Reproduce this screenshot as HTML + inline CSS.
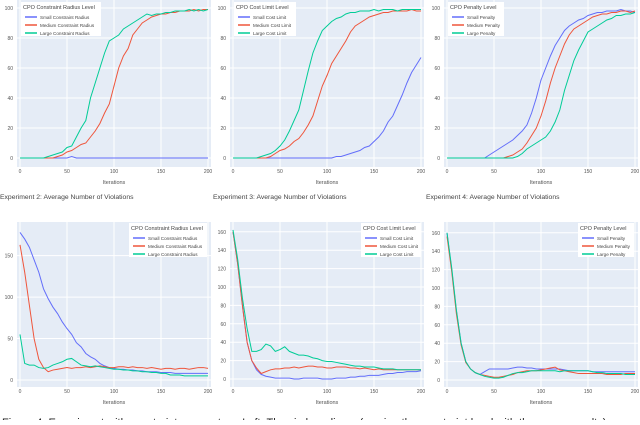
<!DOCTYPE html>
<html><head><meta charset="utf-8"><style>
body{margin:0;background:#fff;width:640px;height:420px;overflow:hidden;font-family:"Liberation Sans",sans-serif}
svg text{font-family:"Liberation Sans",sans-serif}
</style></head><body>
<svg id="c" width="640" height="420" viewBox="0 0 640 420" xmlns="http://www.w3.org/2000/svg">
<text x="2" y="426" font-family="Liberation Serif" font-size="11" fill="#222">Figure 4: Experiment with constraint parameters. Left: The circle radius... (varying the constraint level with the same penalty)</text>
</svg>
<script>
const xs = [0,5,10,15,20,25,30,35,40,45,50,55,60,65,70,75,80,85,90,95,100,105,110,115,120,125,130,135,140,145,150,155,160,165,170,175,180,185,190,195,200];
const t1Small = [0,0,0,0,0,0,0,0,0,0,0,1,0,0,0,0,0,0,0,0,0,0,0,0,0,0,0,0,0,0,0,0,0,0,0,0,0,0,0,0,0];
const t1Med   = [0,0,0,0,0,0,0,0,1,2,4,5,7,9,10,14,18,23,30,36,48,60,68,73,82,86,90,92,94,95,96,96,97,97,98,98,98,99,98,99,99];
const t1Large = [0,0,0,0,0,0,1,2,3,4,7,8,14,20,25,40,50,60,70,78,80,82,86,88,90,92,94,96,95,96,96,97,97,98,98,98,99,98,99,98,99];
const t2Small = [0,0,0,0,0,0,0,0,0,0,0,0,0,0,0,0,0,0,0,0,0,0,1,1,2,3,4,5,7,8,11,14,18,24,28,35,42,50,57,62,67];
const t2Med   = [0,0,0,0,0,0,0,0,1,3,5,6,8,11,13,17,22,28,38,48,55,63,68,73,78,84,88,90,92,94,95,96,97,97,98,98,98,98,99,98,98];
const t2Large = [0,0,0,0,0,0,1,2,3,5,8,12,18,25,32,45,58,70,78,85,88,91,93,94,96,97,97,98,98,98,99,98,99,99,99,98,99,99,99,99,99];
const t3Small = [0,0,0,0,0,0,0,0,0,2,4,6,8,10,12,15,18,22,30,40,52,60,68,75,80,85,88,90,92,93,95,96,97,97,98,98,98,99,98,98,97];
const t3Med   = [0,0,0,0,0,0,0,0,0,0,0,0,0,1,2,4,6,10,15,20,28,38,50,60,68,76,82,86,88,90,92,94,95,96,96,97,97,98,98,97,98];
const t3Large = [0,0,0,0,0,0,0,0,0,0,0,0,0,0,0,1,3,6,8,10,12,14,18,24,32,45,55,65,72,78,84,86,88,90,92,93,95,95,96,96,97];
const b1Small = [178,170,160,145,130,110,98,88,80,70,62,55,45,40,32,28,25,20,17,15,14,13,13,12,12,11,11,10,10,10,9,9,9,8,8,8,8,8,8,8,8];
const b1Med   = [163,130,90,50,25,15,10,12,13,14,15,14,15,15,16,15,16,17,16,15,15,16,16,15,16,15,15,14,15,14,13,14,14,13,14,14,13,14,15,15,14];
const b1Large = [55,20,18,18,15,14,15,18,20,22,25,26,22,18,17,16,17,16,15,14,13,13,12,12,11,11,10,10,9,9,8,8,6,6,6,5,5,5,5,5,5];
const b2Small = [160,125,80,40,20,10,5,3,2,1,1,1,1,0,0,1,1,1,1,0,0,0,1,1,1,2,2,3,3,4,4,4,5,6,6,7,7,8,8,8,9];
const b2Med   = [160,125,80,40,20,12,6,8,10,11,11,12,12,13,12,13,14,14,13,13,12,12,13,13,13,12,12,11,12,11,10,11,10,10,10,10,10,10,10,10,10];
const b2Large = [162,130,88,55,30,30,32,38,36,30,32,35,30,28,26,26,25,23,22,20,19,19,18,17,16,15,14,14,13,13,13,12,11,11,11,10,10,10,10,10,10];
const b3Small = [160,120,75,40,20,12,8,6,9,12,12,12,12,12,13,14,14,13,13,12,12,12,12,12,12,11,10,10,10,10,10,9,9,9,9,9,9,9,9,9,9];
const b3Med   = [156,118,72,38,19,12,8,6,5,4,3,3,4,5,6,8,9,10,10,10,11,12,13,14,11,10,9,8,7,7,7,7,7,7,6,6,6,6,7,7,7];
const b3Large = [160,122,76,40,20,12,8,6,4,3,2,2,3,5,7,8,8,9,10,10,10,10,10,10,9,10,10,10,10,10,10,9,8,8,7,7,7,7,6,6,6];
const yTicksTop = [0,20,40,60,80,100];
const yTicksB1 = [0,50,100,150];
const yTicksB23 = [0,20,40,60,80,100,120,140,160];
const xTicks = [0,50,100,150,200];
const colors = ['#636efa','#ef553b','#00cc96'];
const NS='http://www.w3.org/2000/svg';
const svg=document.getElementById('c');
function mk(tag,attrs,parent){const e=document.createElementNS(NS,tag);for(const k in attrs)e.setAttribute(k,attrs[k]);(parent||svg).appendChild(e);return e;}
function panel(o){
  const g=mk('g',{});
  
  
  const sx=v=>o.x0+v/200*188;
  const sy=v=>o.y0-v*o.k;
  const bg=mk('rect',{x:o.x0-3,y:o.top,width:194,height:o.bot-o.top,fill:'#e5ecf6'},g);
  
  
  for(const t of o.yt){
    const gl=mk('line',{x1:o.x0-3,x2:o.x0+191,y1:sy(t),y2:sy(t),stroke:'#fff','stroke-width':1},g);
    
    
    const tl=mk('text',{x:o.x0-7,y:sy(t)+2,'font-size':5,fill:'#555','text-anchor':'end'},g);
    
    
    tl.textContent=t;
  }
  for(const t of xTicks){
    const gl=mk('line',{x1:sx(t),x2:sx(t),y1:o.top,y2:o.bot,stroke:'#fff','stroke-width':1},g);
    
    
    const tl=mk('text',{x:sx(t),y:o.bot+6,'font-size':5,fill:'#555','text-anchor':'middle'},g);
    
    
    tl.textContent=t;
  }
  const xt=mk('text',{x:o.x0+94,y:o.bot+17,'font-size':5.5,fill:'#555','text-anchor':'middle'},g);
  
  
  xt.textContent='Iterations';
  o.series.forEach((s,i)=>{
    const p=mk('polyline',{points:s.map((v,j)=>sx(xs[j])+','+sy(v)).join(' '),fill:'none',stroke:colors[i],'stroke-width':1},g);
    
    
  });
  const lg=mk('g',{},g);
  
  
  mk('rect',{x:o.lx,y:o.ly,width:o.lw,height:34,fill:'#fff'},lg);
  const lt=mk('text',{x:o.lx+2,y:o.ly+7,'font-size':5.5,fill:'#444'},lg);
  
  
  lt.textContent=o.ltitle;
  o.labels.forEach((l,i)=>{
    const yy=o.ly+15+i*8;
    mk('line',{x1:o.lx+4,x2:o.lx+16,y1:yy,y2:yy,stroke:colors[i],'stroke-width':1.5},lg);
    const et=mk('text',{x:o.lx+19,y:yy+2,'font-size':4.6,fill:'#444'},lg);
    
    
    et.textContent=l;
  });
}
const L1=['Small Constraint Radius','Medium Constraint Radius','Large Constraint Radius'];
const L2=['Small Cost Limit','Medium Cost Limit','Large Cost Limit'];
const L3=['Small Penalty','Medium Penalty','Large Penalty'];
panel({name:'panel-exp1-top',x0:20,top:0,bot:167,y0:158,k:1.5,yt:yTicksTop,series:[t1Small,t1Med,t1Large],labels:L1,ltitle:'CPO Constraint Radius Level',lx:21,ly:2,lw:80});
panel({name:'panel-exp2-top',x0:233,top:0,bot:167,y0:158,k:1.5,yt:yTicksTop,series:[t2Small,t2Med,t2Large],labels:L2,ltitle:'CPO Cost Limit Level',lx:234,ly:2,lw:62});
panel({name:'panel-exp3-top',x0:447,top:0,bot:167,y0:158,k:1.5,yt:yTicksTop,series:[t3Small,t3Med,t3Large],labels:L3,ltitle:'CPO Penalty Level',lx:448,ly:2,lw:56});
panel({name:'panel-exp2-violations',x0:20,top:222,bot:387,y0:380,k:0.829,yt:yTicksB1,series:[b1Small,b1Med,b1Large],labels:L1,ltitle:'CPO Constraint Radius Level',lx:129,ly:223,lw:78});
panel({name:'panel-exp3-violations',x0:233,top:222,bot:387,y0:379,k:0.92,yt:yTicksB23,series:[b2Small,b2Med,b2Large],labels:L2,ltitle:'CPO Cost Limit Level',lx:361,ly:223,lw:60});
panel({name:'panel-exp4-violations',x0:447,top:222,bot:387,y0:380,k:0.92,yt:yTicksB23,series:[b3Small,b3Med,b3Large],labels:L3,ltitle:'CPO Penalty Level',lx:578,ly:223,lw:56});
[['Experiment 2: Average Number of Violations',0],['Experiment 3: Average Number of Violations',213],['Experiment 4: Average Number of Violations',426]].forEach(([t,x])=>{
  const e=mk('text',{x:x,y:199,'font-size':6.8,fill:'#444'});
  
  
  e.textContent=t;
});
</script>
</body></html>
